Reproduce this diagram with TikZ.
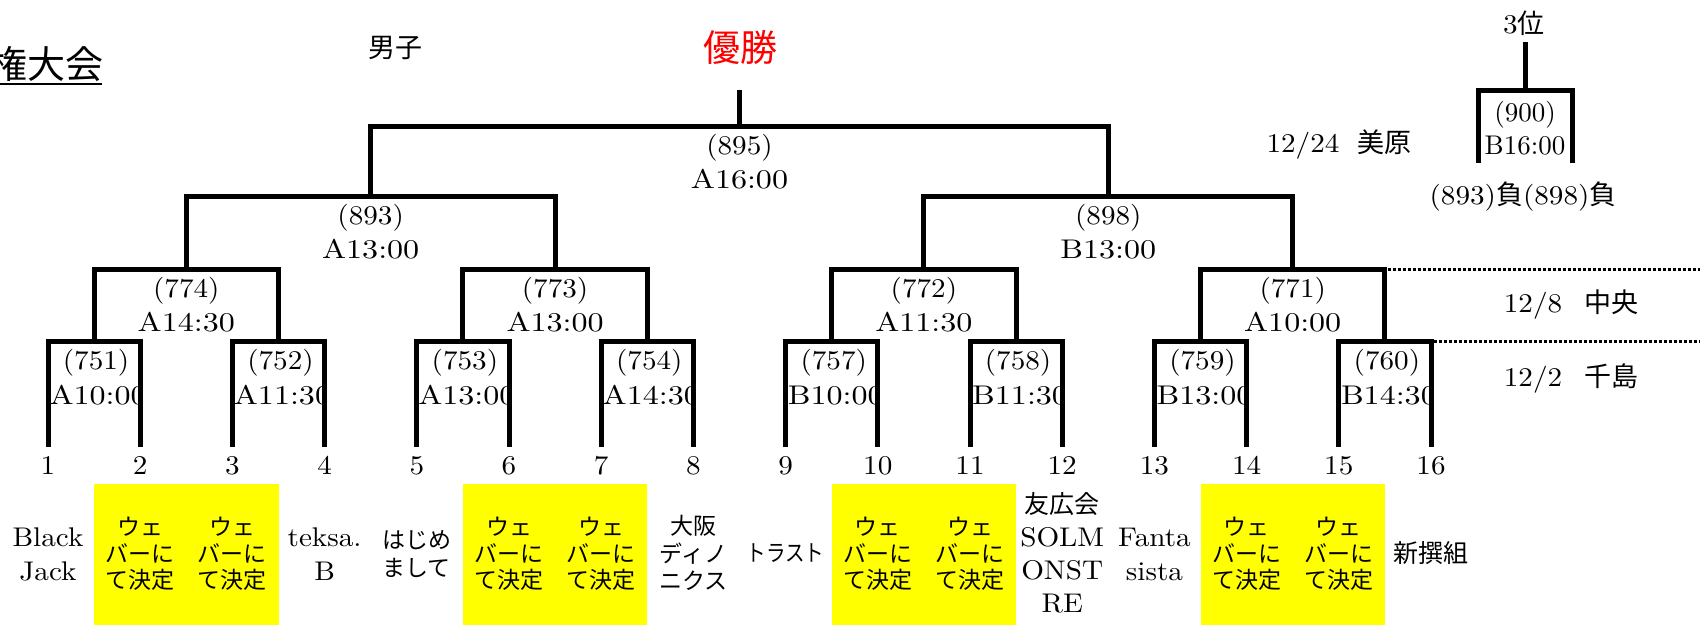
\documentclass[tikz,border=0pt]{standalone}
\usepackage{fontspec}
\setmainfont{lmroman10-regular.otf}[FakeStretch=1.08]
\newfontfamily\lmn{lmroman10-regular.otf}
\newfontfamily\jp{Noto Sans CJK JP}
\newcommand\tmx[1]{\scalebox{1.1}[1]{#1}}
\definecolor{yel}{HTML}{FFFF00}
\definecolor{winred}{HTML}{FF0000}
\begin{document}
\begin{tikzpicture}[x=0.5pt,y=-0.5pt,
 br/.style={line width=2.5pt,line join=miter},
 dotline/.style={line width=1.5pt,dash pattern=on 1.5pt off 1pt},
 lab/.style={inner sep=0pt,font=\fontsize{13.5}{16}\selectfont,text height=9.2pt,text depth=0pt},
 labn/.style={inner sep=0pt,font=\lmn\fontsize{13.5}{16}\selectfont,text height=9.2pt,text depth=0pt},
 mix/.style={inner sep=0pt,font=\fontsize{13.5}{16}\selectfont},
 team/.style={inner sep=0pt,align=center,font=\fontsize{13.5}{17}\selectfont},
 jteam/.style={inner sep=0pt,align=center,font=\jp\fontsize{11.5}{13.25}\selectfont},
 jtxt/.style={inner sep=0pt,font=\jp\fontsize{13.5}{16}\selectfont},
]
\useasboundingbox (0,0) rectangle (1700,625);

% yellow cells
\fill[yel] (94.1,484) rectangle (278.5,626);
\fill[yel] (462.9,484) rectangle (647.3,626);
\fill[yel] (831.7,484) rectangle (1016.1,626);
\fill[yel] (1200.5,484) rectangle (1384.9,626);

% leaves and numbers
\foreach \i in {1,...,16} {
  \coordinate (l\i) at ({48+(\i-1)*92.2},447);
  \node[lab] (n\i) at ({48+(\i-1)*92.2},465) {\i};
}

% match points
\coordinate (m751) at (94.1,341);
\coordinate (m752) at (278.5,341);
\coordinate (m753) at (462.9,341);
\coordinate (m754) at (647.3,341);
\coordinate (m757) at (831.7,341);
\coordinate (m758) at (1016.1,341);
\coordinate (m759) at (1200.5,341);
\coordinate (m760) at (1384.9,341);
\coordinate (m774) at (186.3,270);
\coordinate (m773) at (555.1,270);
\coordinate (m772) at (923.9,270);
\coordinate (m771) at (1292.7,270);
\coordinate (m893) at (370.7,197);
\coordinate (m898) at (1108.3,197);
\coordinate (m895) at (739.5,127);
\coordinate (win) at (739.5,90);

% level-1 labels
\foreach \m/\x/\tv in {751/94.1/A10:00, 752/278.5/A11:30, 753/462.9/A13:00, 754/647.3/A14:30, 757/831.7/B10:00, 758/1016.1/B11:30, 759/1200.5/B13:00, 760/1384.9/B14:30} {
  \node[lab] (c\m) at (\x+2,360) {(\m)};
  \begin{scope}
    \clip (\x-46.1,370) rectangle (\x+46.1,420);
    \node[lab] (h\m) at (\x+4,395) {\tmx{\tv}};
  \end{scope}
}

% level-2..4 labels
\foreach \m/\x/\y/\tv in {774/186.3/270/A14:30, 773/555.1/270/A13:00, 772/923.9/270/A11:30, 771/1292.7/270/A10:00, 893/370.7/197/A13:00, 898/1108.3/197/B13:00, 895/739.5/127/A16:00} {
  \node[lab] (c\m) at (\x,\y+18) {(\m)};
  \node[lab] (h\m) at (\x,\y+52) {\tmx{\tv}};
}

% bracket lines
\draw[br] (l1) |- (m751) -| (l2);
\draw[br] (l3) |- (m752) -| (l4);
\draw[br] (l5) |- (m753) -| (l6);
\draw[br] (l7) |- (m754) -| (l8);
\draw[br] (l9) |- (m757) -| (l10);
\draw[br] (l11) |- (m758) -| (l12);
\draw[br] (l13) |- (m759) -| (l14);
\draw[br] (l15) |- (m760) -| (l16);
\draw[br] (m751) |- (m774) -| (m752);
\draw[br] (m753) |- (m773) -| (m754);
\draw[br] (m757) |- (m772) -| (m758);
\draw[br] (m759) |- (m771) -| (m760);
\draw[br] (m774) |- (m893) -| (m773);
\draw[br] (m772) |- (m898) -| (m771);
\draw[br] (m893) |- (m895) -| (m898);
\draw[br] (m895) -- (win);

% dotted separators
\coordinate (r771) at (1387.5,270);
\coordinate (e771) at (1700,270);
\coordinate (r760) at (1433.5,341);
\coordinate (e760) at (1700,341);
\draw[dotline] (r771) -- (e771);
\draw[dotline] (r760) -- (e760);

% third place
\coordinate (q1) at (1478,163);
\coordinate (q2) at (1572,163);
\coordinate (m900) at (1525,91);
\coordinate (third) at (1525,42);
\draw[br] (q1) |- (m900) -| (q2);
\draw[br] (m900) -- (third);
\node[mix] (p3) at (1524,23) {3{\jp 位}};
\node[labn] (c900) at (1525,112) {(900)};
\node[labn] (h900) at (1525,145) {B16:00};
\node[mix] (d24) at (1339,145) {12/24\hspace{9pt}{\jp 美原}};
\node[mix] (loss) at (1523,197) {(893){\jp 負}(898){\jp 負}};
\node[mix] (d8) at (1571,305) {12/8\hspace{11pt}{\jp 中央}};
\node[mix] (d2) at (1571,378) {12/2\hspace{11pt}{\jp 千島}};

% headings
\node[jtxt] (boys) at (395,48) {男子};
\node[jtxt,text=winred,font=\jp\fontsize{18.5}{20}\selectfont] (champ) at (740,48) {優勝};
\node[inner sep=0pt,anchor=east,font=\jp\fontsize{19}{20}\selectfont] (title) at (104,64) {権大会};
\coordinate (u0) at (0,84);
\coordinate (u1) at (102,84);
\draw[line width=1pt] (u0) -- (u1);

% teams
\node[team] (t1) at (48,554) {Black\\Jack};
\foreach \i in {2,3,6,7,10,11,14,15}
  \node[jteam] (t\i) at ({48+(\i-1)*92.2},554) {ウェ\\バーに\\て決定};
\node[team] (t4) at (324.6,554) {teksa.\\B};
\node[jteam,font=\jp\fontsize{11.5}{14}\selectfont] (t5) at (416.8,554) {はじめ\\まして};
\node[jteam,font=\jp\fontsize{11.5}{13.75}\selectfont] (t8) at (693.4,553) {大阪\\ディノ\\ニクス};
\node[jteam] (t9) at (785.6,553) {\scalebox{0.85}[1]{トラスト}};
\node[team,font=\fontsize{13.5}{16.5}\selectfont] (t12) at (1062.2,553) {{\jp\fontsize{12.5}{16.5}\selectfont 友広会}\\SOLM\\ONST\\RE};
\node[team] (t13) at (1154.4,554) {Fanta\\sista};
\node[jteam,font=\jp\fontsize{12.5}{14}\selectfont] (t16) at (1431,553) {新撰組};
\end{tikzpicture}
\end{document}
